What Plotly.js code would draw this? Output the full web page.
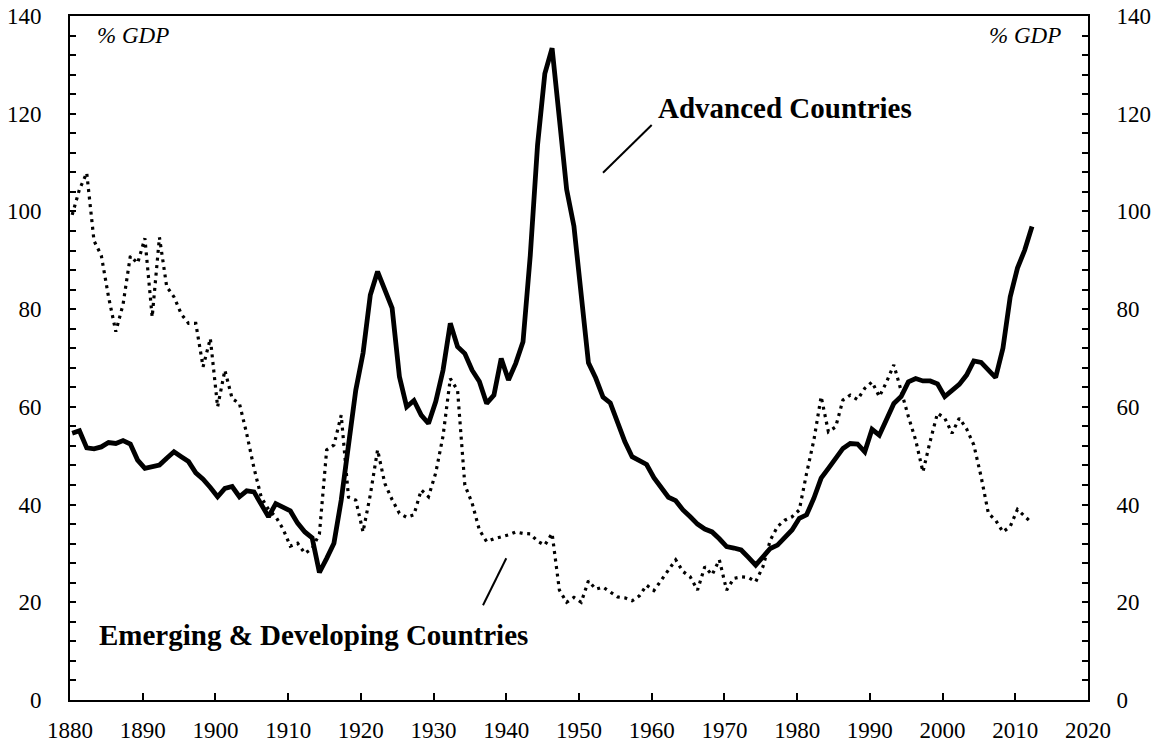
<!DOCTYPE html>
<html>
<head>
<meta charset="utf-8">
<script src="https://cdn.plot.ly/plotly-3.0.1.min.js"></script>
<style>html,body{margin:0;padding:0;background:#fff;}#chart{width:1156px;height:747px;}</style>
</head>
<body>
<div id="chart"></div>
<script>
const years = [
1880,1881,1882,1883,1884,1885,1886,1887,1888,1889,
1890,1891,1892,1893,1894,1895,1896,1897,1898,1899,
1900,1901,1902,1903,1904,1905,1906,1907,1908,1909,
1910,1911,1912,1913,1914,1915,1916,1917,1918,1919,
1920,1921,1922,1923,1924,1925,1926,1927,1928,1929,
1930,1931,1932,1933,1934,1935,1936,1937,1938,1939,
1940,1941,1942,1943,1944,1945,1946,1947,1948,1949,
1950,1951,1952,1953,1954,1955,1956,1957,1958,1959,
1960,1961,1962,1963,1964,1965,1966,1967,1968,1969,
1970,1971,1972,1973,1974,1975,1976,1977,1978,1979,
1980,1981,1982,1983,1984,1985,1986,1987,1988,1989,
1990,1991,1992,1993,1994,1995,1996,1997,1998,1999,
2000,2001,2002,2003,2004,2005,2006,2007,2008,2009,
2010,2011,2012];

// Advanced Countries, public debt % GDP
const advanced = [
54.6,55.1,51.6,51.4,51.8,52.7,52.5,53.1,52.4,49.1,
47.4,47.7,48.1,49.5,50.8,49.8,48.8,46.5,45.2,43.5,
41.6,43.3,43.7,41.6,42.8,42.6,39.9,37.5,40.2,39.5,
38.7,36.2,34.4,33.2,26.1,29.0,32.1,40.9,52.5,63.4,
71.0,82.9,87.7,83.9,80.2,66.2,60.0,61.3,58.3,56.6,
61.1,67.5,77.1,72.3,70.9,67.5,65.2,60.7,62.4,69.9,
65.5,68.9,73.3,91.0,113.6,128.2,133.4,119.0,104.5,97.0,
83.0,69.0,65.9,62.0,60.8,57.0,52.9,49.8,49.0,48.2,
45.5,43.5,41.5,40.8,38.9,37.5,36.0,35.0,34.4,33.0,
31.4,31.1,30.7,29.2,27.6,29.3,31.0,31.7,33.2,34.8,
37.2,37.9,41.3,45.4,47.4,49.5,51.5,52.5,52.4,50.8,
55.4,54.2,57.7,60.7,62.1,65.1,65.8,65.3,65.3,64.7,
62.1,63.4,64.6,66.5,69.4,69.1,67.5,66.0,72.0,82.5,
88.4,92.1,96.9];

// Emerging & Developing Countries, public debt % GDP
const emerging = [
99.3,104.5,107.9,94.0,91.0,82.5,75.4,81.0,90.9,89.4,
94.5,78.4,94.7,84.6,82.5,79.0,77.1,77.1,68.2,74.0,
60.0,67.5,61.7,60.7,54.5,47.5,41.5,39.0,37.5,35.0,
31.5,32.1,30.0,31.0,34.0,51.2,52.2,58.3,41.5,40.9,
34.4,42.0,51.2,44.3,41.0,38.2,37.4,37.9,43.0,41.6,
46.5,54.0,65.8,63.4,44.0,40.3,34.8,32.4,33.0,33.4,
33.8,34.4,34.1,34.0,32.5,31.7,34.1,22.5,20.0,21.0,
20.0,24.4,22.7,23.1,22.0,21.1,20.9,20.3,21.3,23.5,
22.4,24.6,26.6,28.7,26.3,25.2,22.5,27.3,25.6,28.7,
22.5,24.9,25.2,25.1,24.2,27.3,32.7,35.5,36.8,37.5,
38.9,46.4,53.2,62.1,54.9,55.9,61.4,62.4,61.5,63.8,
65.1,62.1,65.1,68.6,63.0,58.0,53.2,46.7,53.0,58.7,
57.7,54.6,57.7,55.5,52.2,45.7,38.2,36.8,34.4,35.5,
39.0,37.5,36.2];

const xTicks = [1880,1890,1900,1910,1920,1930,1940,1950,1960,1970,1980,1990,2000,2010,2020];
const yTicks = [0,20,40,60,80,100,120,140];
const seriesLabels = ['Advanced Countries', 'Emerging & Developing Countries'];
const unitLabel = '% GDP';

// annual observations are drawn at the point within each year used by the source chart
const yearPoint = 0.3;
const xPos = years.map(y => y + yearPoint);

const FONT = 'Liberation Serif';

const traces = [
  {
    x: xPos, y: emerging, name: seriesLabels[1], type: 'scatter', mode: 'lines',
    line: {color: '#000', width: 3.2, dash: '3px,4.6px'},
    yaxis: 'y', hoverinfo: 'x+y'
  },
  {
    x: xPos, y: advanced, name: seriesLabels[0], type: 'scatter', mode: 'lines',
    line: {color: '#000', width: 4.8},
    yaxis: 'y2', hoverinfo: 'x+y'
  }
];

const yCommon = {
  range: [0, 140], tickvals: yTicks, ticks: 'inside', ticklen: 6, tickwidth: 2, tickcolor: '#000',
  showline: true, linewidth: 2, linecolor: '#000', showgrid: false, zeroline: false,
  minor: {dtick: 4, ticks: 'inside', ticklen: 6, tickwidth: 2, tickcolor: '#000', showgrid: false},
  tickfont: {family: FONT, size: 23, color: '#000'}, ticklabelstandoff: 22, fixedrange: true
};

const layout = {
  width: 1156, height: 747,
  margin: {l: 70, r: 68, t: 16, b: 47, pad: 0},
  paper_bgcolor: '#fff', plot_bgcolor: '#fff',
  showlegend: false,
  font: {family: FONT, size: 23, color: '#000'},
  xaxis: {
    range: [1880, 2020], tickvals: xTicks, ticks: 'inside', ticklen: 7, tickwidth: 2, tickcolor: '#000',
    showline: true, linewidth: 2, linecolor: '#000', mirror: true, showgrid: false, zeroline: false,
    tickfont: {family: FONT, size: 23, color: '#000'}, ticklabelstandoff: 8, fixedrange: true
  },
  yaxis: Object.assign({}, yCommon, {side: 'left'}),
  yaxis2: Object.assign({}, yCommon, {side: 'right', overlaying: 'y', anchor: 'x'}),
  shapes: [
    {type: 'line', xref: 'x', yref: 'y', x0: 1953.3, y0: 107.9, x1: 1960.0, y1: 117.7, line: {color: '#000', width: 2}},
    {type: 'line', xref: 'x', yref: 'y', x0: 1936.8, y0: 19.4, x1: 1940.0, y1: 29.0, line: {color: '#000', width: 2}}
  ],
  annotations: [
    {text: '<b>' + seriesLabels[0] + '</b>', xref: 'x', yref: 'y', x: 1960.6, y: 121.2, xanchor: 'left', yanchor: 'middle', showarrow: false, font: {family: FONT, size: 29, color: '#000'}},
    {text: '<b>' + seriesLabels[1].replace('&', '&amp;') + '</b>', xref: 'x', yref: 'y', x: 1883.7, y: 13.3, xanchor: 'left', yanchor: 'middle', showarrow: false, font: {family: FONT, size: 29, color: '#000'}},
    {text: '<i>' + unitLabel + '</i>', xref: 'paper', yref: 'paper', x: 0.0246, y: 0.972, xanchor: 'left', yanchor: 'middle', showarrow: false, font: {family: FONT, size: 23, color: '#000'}},
    {text: '<i>' + unitLabel + '</i>', xref: 'paper', yref: 'paper', x: 0.975, y: 0.972, xanchor: 'right', yanchor: 'middle', showarrow: false, font: {family: FONT, size: 23, color: '#000'}}
  ]
};

Plotly.newPlot('chart', traces, layout, {displayModeBar: false, staticPlot: true});
</script>
</body>
</html>
